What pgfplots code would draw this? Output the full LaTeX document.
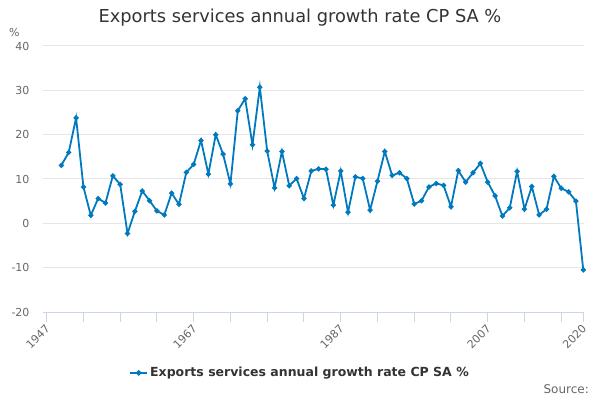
\documentclass[border=0pt]{standalone}
\usepackage{pgfplots}
\pgfplotsset{compat=1.18}
\usepackage{fontspec}
\setmainfont{DejaVu Sans}
\definecolor{linec}{RGB}{0,121,191}
\definecolor{axisc}{RGB}{204,214,235}
\definecolor{gridc}{RGB}{230,230,230}
\definecolor{tickc}{RGB}{102,102,102}
\definecolor{titlec}{RGB}{51,51,51}
\begin{document}
\begin{tikzpicture}
\path[use as bounding box] (0,0) rectangle (600bp,400bp);
\begin{axis}[
  at={(43bp,88bp)}, anchor=south west, scale only axis,
  width=541bp, height=266bp,
  xmin=1946.5, xmax=2020.1, ymin=-20, ymax=40,
  ytick={-20,-10,...,40},
  xtick={1947,1967,1987,2007,2020},
  minor xtick={1952,1957,1962,1972,1977,1982,1992,1997,2002,2012,2017},
  axis x line*=bottom, axis y line*=left,
  x axis line style={draw=axisc, line width=1bp, -},
  y axis line style={draw=none},
  tick align=outside, major tick length=10bp, minor tick length=10bp,
  xtick style={draw=axisc, line width=1bp},
  minor x tick style={draw=axisc, line width=1bp},
  ytick style={draw=none},
  ymajorgrids, grid style={draw=gridc, line width=1bp},
  ticklabel style={font=\fontsize{11bp}{13bp}\selectfont, text=tickc},
  /pgf/number format/assume math mode=true,
  xticklabel style={rotate=45, anchor=east, yshift=-4bp, xshift=1bp, /pgf/number format/1000 sep={}},
  yticklabel style={/pgf/number format/1000 sep={}},
  legend style={at={(0.475,-0.229)}, anchor=center, draw=none, fill=none,
    font=\bfseries\fontsize{12.5bp}{15bp}\selectfont, text=titlec},
  legend image post style={line width=2bp},
]
\addplot[color=linec, line width=1.8bp, mark=*, mark size=1.6bp, mark options={solid}] coordinates {
(1949,13.1) (1950,16.0) (1951,23.8) (1952,8.2) (1953,1.8) (1954,5.6) (1955,4.6) (1956,10.7) (1957,8.8) (1958,-2.3)
(1959,2.7) (1960,7.3) (1961,5.1) (1962,2.8) (1963,1.9) (1964,6.8) (1965,4.3) (1966,11.5) (1967,13.3) (1968,18.7)
(1969,11.1) (1970,20.0) (1971,15.6) (1972,8.9) (1973,25.4) (1974,28.1) (1975,17.7) (1976,30.7) (1977,16.3) (1978,8.0)
(1979,16.2) (1980,8.5) (1981,10.1) (1982,5.6) (1983,11.8) (1984,12.3) (1985,12.2) (1986,4.1) (1987,11.8) (1988,2.5)
(1989,10.5) (1990,10.1) (1991,3.0) (1992,9.5) (1993,16.2) (1994,10.8) (1995,11.4) (1996,10.1) (1997,4.35) (1998,5.1)
(1999,8.2) (2000,9.0) (2001,8.55) (2002,3.75) (2003,11.9) (2004,9.3) (2005,11.4) (2006,13.5) (2007,9.3) (2008,6.2)
(2009,1.65) (2010,3.5) (2011,11.7) (2012,3.2) (2013,8.3) (2014,1.9) (2015,3.2) (2016,10.6) (2017,7.9) (2018,7.1)
(2019,5.0) (2020,-10.5)
};
\addlegendentry{Exports services annual growth rate CP SA \%}
\end{axis}
\node[font=\fontsize{17.8bp}{22bp}\selectfont, text=titlec] at (300bp,382bp) {Exports services annual growth rate CP SA \%};
\node[font=\fontsize{11bp}{13bp}\selectfont, text=tickc, anchor=west, inner sep=0pt] at (9bp,368bp) {\%};
\node[font=\fontsize{12bp}{14bp}\selectfont, text=tickc, anchor=east, inner sep=0pt] at (589bp,11bp) {Source:};
\end{tikzpicture}
\end{document}
